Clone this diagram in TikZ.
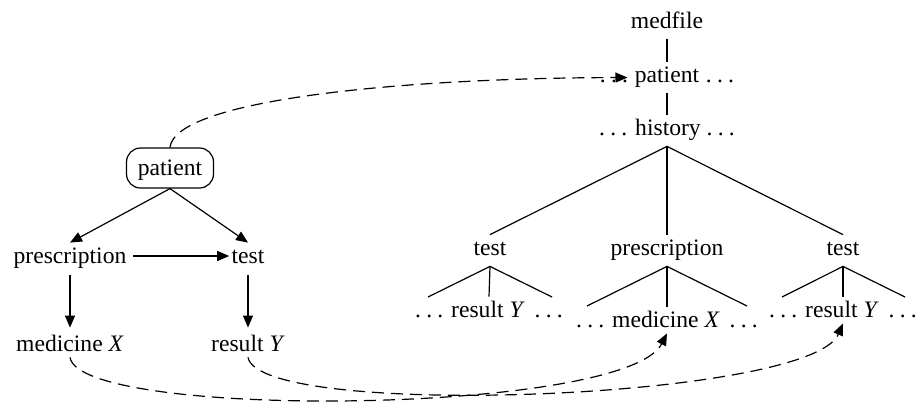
\documentclass[tikz,border=0pt]{standalone}
\usepackage{fontspec}
\setmainfont{Liberation Serif}
\usetikzlibrary{arrows.meta}
\newcommand{\mydots}{.\kern2.6pt.\kern2.6pt.}
\begin{document}
\begin{tikzpicture}[x=0.5pt,y=-0.5pt,
  every node/.style={font=\fontsize{11.8}{14}\selectfont, inner sep=0pt, anchor=base},
  tn/.style={text height=10pt, text depth=5.5pt},
  leaf/.style={text height=10pt, text depth=3pt},
  gn/.style={text height=10pt, text depth=3pt},
  tline/.style={line width=0.6pt},
  arr/.style={line width=0.6pt, -{Triangle[length=6pt,width=5pt]}},
  darr/.style={arr, dash pattern=on 6pt off 3.5pt},
  pbox/.style={draw, rounded corners=7pt, minimum width=43.5pt, minimum height=20pt,
    text height=8pt, text depth=1pt, anchor=center, line width=0.6pt}]
\useasboundingbox (0,0) rectangle (917,403);

% right tree
\node[tn] (medfile) at (667,28) {medfile};
\node[tn] (rpat) at (667,82) {patient};
\node[tn, anchor=base east] (rpatl) at ([xshift=-3pt]rpat.base west) {\mydots};
\node[tn, anchor=base west] (rpatr) at ([xshift=3pt]rpat.base east) {\mydots};
\node[tn] (hist) at (667,135) {\mydots{} history \mydots};
\node[tn] (t1) at (490,255) {test};
\node[tn] (pr) at (667,255) {prescription};
\node[tn] (t2) at (843,255) {test};
\node[leaf] (ry1) at (489,317) {\mydots{} result \textit{Y}\kern2pt{} \mydots};
\node[leaf] (rmx) at (667,327) {\mydots{} medicine \textit{X}\kern2pt{} \mydots};
\node[leaf] (ry2) at (843,317) {\mydots{} result \textit{Y}\kern2pt{} \mydots};

\coordinate (t1l) at (428,297);
\coordinate (t1r) at (552,297);
\coordinate (prl) at (587,306);
\coordinate (prr) at (747,306);
\coordinate (t2l) at (782,297);
\coordinate (t2r) at (905,297);

\draw[tline] (medfile.south) -- (rpat.north);
\draw[tline] (rpat.south) -- (hist.north);
\draw[tline] (hist.south) -- (t1.north);
\draw[tline] (hist.south) -- (pr.north);
\draw[tline] (hist.south) -- (t2.north);
\draw[tline] (t1.south) -- (t1l);
\draw[tline] (t1.south) -- (ry1.north);
\draw[tline] (t1.south) -- (t1r);
\draw[tline] (pr.south) -- (prl);
\draw[tline] (pr.south) -- (rmx.north);
\draw[tline] (pr.south) -- (prr);
\draw[tline] (t2.south) -- (t2l);
\draw[tline] (t2.south) -- (ry2.north);
\draw[tline] (t2.south) -- (t2r);

% left graph
\node[pbox] (lpat) at (170,168) {patient};
\node[gn] (lpres) at (70,263) {prescription};
\node[gn] (ltest) at (248,263) {test};
\node[gn] (lmed) at (70,351) {medicine \textit{X}};
\node[gn] (lres) at (248,351) {result \textit{Y}};

\draw[arr] (lpat.south) -- (lpres.north);
\draw[arr] (lpat.south) -- (ltest.north);
\draw[arr, shorten <=3pt, shorten >=1pt] (lpres.east) -- (ltest.west);
\draw[arr, shorten <=3pt, shorten >=1.5pt] (lpres.south) -- (lmed.north);
\draw[arr, shorten <=3pt, shorten >=1.5pt] (ltest.south) -- (lres.north);

% dashed links
\draw[darr, shorten >=3.5pt] (lpat.north) .. controls (175,100) and (400,78) .. (rpat.west);
\draw[darr] (lmed.south) .. controls (80,420) and (625,415) .. (rmx.south);
\draw[darr] (lres.south) .. controls (260,420) and (810,400) .. (ry2.south);
\end{tikzpicture}
\end{document}
